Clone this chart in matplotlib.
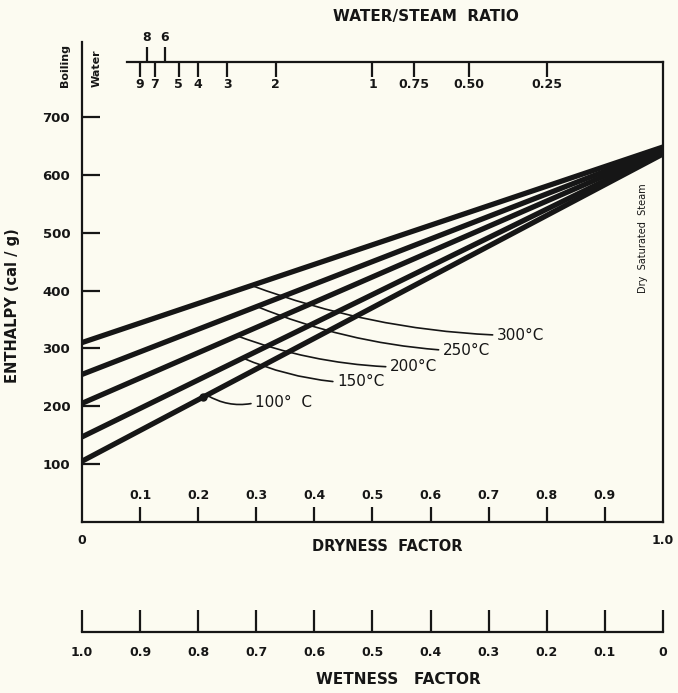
import numpy as np
import matplotlib.pyplot as plt

# 1. Dados
temps = [100, 150, 200, 250, 300]
temp_labels = ['100°  C', '150°C', '200°C', '250°C', '300°C']
h_water = [105, 147, 205, 255, 310]      # entalpia com x = 0 (cal/g)
h_steam = [636, 639, 642, 645, 648]      # entalpia com x = 1 (cal/g)
dryness = [0.0, 1.0]

# posição dos rótulos (x, y) e início da linha de chamada (x sobre a reta)
label_pos = [(0.298, 206), (0.439, 242), (0.530, 268), (0.621, 297), (0.714, 323)]
leader_x = [0.215, 0.277, 0.267, 0.301, 0.292]
leader_rad = [-0.2, -0.08, -0.08, -0.08, -0.08]

y_ticks = [100, 200, 300, 400, 500, 600, 700]
dry_ticks = [0.1, 0.2, 0.3, 0.4, 0.5, 0.6, 0.7, 0.8, 0.9]
wet_ticks = [1.0, 0.9, 0.8, 0.7, 0.6, 0.5, 0.4, 0.3, 0.2, 0.1, 0.0]
wet_labels = ['1.0', '0.9', '0.8', '0.7', '0.6', '0.5', '0.4', '0.3', '0.2', '0.1', '0']
ratio_down = [9, 7, 5, 4, 3, 2, 1, 0.75, 0.5, 0.25]
ratio_down_labels = ['9', '7', '5', '4', '3', '2', '1', '0.75', '0.50', '0.25']
ratio_up = [8, 6]

ink = '#161616'
paper = '#fcfbf1'
plt.rcParams['font.family'] = 'DejaVu Sans'

# 2. Figura e eixo principal
fig = plt.figure(figsize=(6.78, 6.93), dpi=100, facecolor=paper)
ax = fig.add_axes([0.1209, 0.2468, 0.8569, 0.6638])
ax.set_facecolor(paper)
ax.set_xlim(0, 1)
ax.set_ylim(0, 795)

for t, hw, hs in zip(temps, h_water, h_steam):
    ax.plot(dryness, [hw, hs], color=ink, lw=3.8, solid_capstyle='butt')

# 3. Rótulos das temperaturas com linhas de chamada
for i in range(len(temps)):
    x0 = leader_x[i]
    y0 = np.interp(x0, dryness, [h_water[i], h_steam[i]])
    ax.annotate(temp_labels[i], xy=(x0, y0), xytext=label_pos[i],
                ha='left', va='center', fontsize=11, color=ink,
                arrowprops=dict(arrowstyle='-', color=ink, lw=1.2, relpos=(0, 0.5),
                                shrinkA=1, shrinkB=0,
                                connectionstyle=f'arc3,rad={leader_rad[i]}'))
ax.plot(0.208, np.interp(0.208, dryness, [h_water[0], h_steam[0]]),
        'o', color=ink, ms=5)

# 4. Bordas
for s in ax.spines.values():
    s.set_color(ink)
    s.set_linewidth(1.6)
ax.spines['top'].set_bounds(0.0775, 1)
ax.spines['left'].set_bounds(0, 829)

# eixo y (entalpia)
ax.set_yticks(y_ticks)
ax.tick_params(axis='y', direction='in', length=13, width=1.6, pad=8.5,
               labelsize=9.5, colors=ink)
for lb in ax.get_yticklabels():
    lb.set_fontweight('bold')
ax.text(-0.119, 0.47, 'ENTHALPY (cal / g)', transform=ax.transAxes, rotation=90,
        ha='center', va='center', fontsize=10.5, fontweight='bold', color=ink)

# eixo x (título de secura) - rótulos dentro
ax.set_xticks(dry_ticks)
ax.set_xticklabels([f'{v:.1f}' for v in dry_ticks])
ax.set_xticks([0, 1], ['0', '1.0'], minor=True)
ax.tick_params(axis='x', which='major', direction='in', length=11, width=1.6,
               pad=-24, labelsize=9, colors=ink)
ax.tick_params(axis='x', which='minor', length=0, pad=8.5, labelsize=9, colors=ink)
for lb in ax.get_xticklabels() + ax.get_xticklabels(minor=True):
    lb.set_fontweight('bold')
ax.text(0.525, -0.054, 'DRYNESS  FACTOR', transform=ax.transAxes, ha='center',
        va='center', fontsize=10.5, fontweight='bold', color=ink)

# 5. Escala superior: razão água/vapor
def d2r(x):
    x = np.asarray(x, dtype=float)
    return (1 - x) / np.maximum(x, 1e-6)

def r2d(r):
    r = np.asarray(r, dtype=float)
    return 1 / (1 + r)

sec = ax.secondary_xaxis('top', functions=(d2r, r2d))
sec.spines['top'].set_visible(False)
sec.set_xticks(ratio_down, ratio_down_labels)
sec.set_xticks(ratio_up, ['8', '6'], minor=True)
sec.tick_params(which='major', direction='in', length=11, width=1.6, pad=-21,
                labelsize=9, colors=ink)
sec.tick_params(which='minor', direction='out', length=11, width=1.6, pad=2,
                labelsize=9, colors=ink)
for lb in sec.get_xticklabels() + sec.get_xticklabels(minor=True):
    lb.set_fontweight('bold')
ax.text(0.592, 1.098, 'WATER/STEAM  RATIO', transform=ax.transAxes, ha='center',
        va='center', fontsize=11, fontweight='bold', color=ink)

ax.text(-0.029, 789, 'Boiling', rotation=90, ha='center', va='center', fontsize=8,
        fontweight='bold', color=ink, clip_on=False)
ax.text(0.026, 784, 'Water', rotation=90, ha='center', va='center', fontsize=8,
        fontweight='bold', color=ink, clip_on=False)
ax.text(0.966, 491, 'Dry  Saturated  Steam', rotation=90, ha='center', va='center',
        fontsize=7, color=ink)

# 6. Escala de umidade (inferior)
axw = fig.add_axes([0.1209, 0.0880, 0.8569, 0.02])
axw.set_facecolor('none')
axw.set_xlim(1, 0)
axw.set_yticks([])
for k in ['top', 'left', 'right']:
    axw.spines[k].set_visible(False)
axw.spines['bottom'].set_color(ink)
axw.spines['bottom'].set_linewidth(1.6)
axw.set_xticks(wet_ticks, wet_labels)
axw.tick_params(axis='x', direction='in', length=16, width=1.6, pad=10,
                labelsize=9, colors=ink)
for lb in axw.get_xticklabels():
    lb.set_fontweight('bold')
fig.text(0.587, 0.019, 'WETNESS   FACTOR', ha='center', va='center', fontsize=11,
         fontweight='bold', color=ink)

fig.savefig('out.png', dpi=100, facecolor=paper)
